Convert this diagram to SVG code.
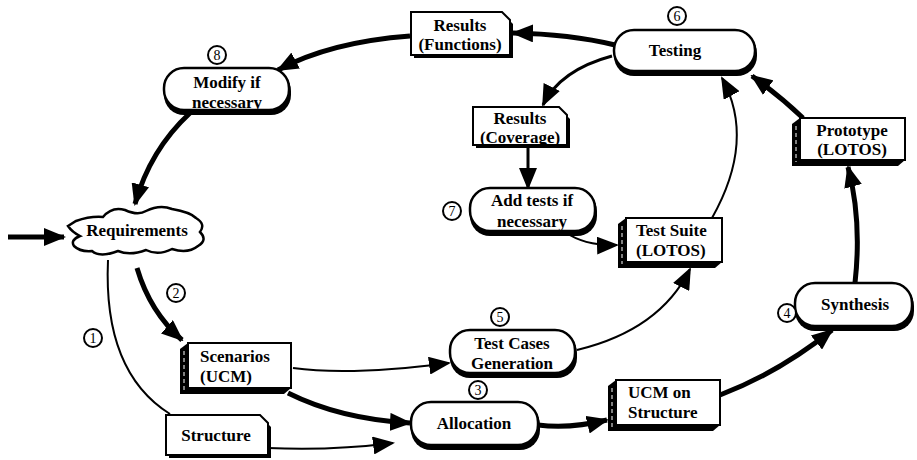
<svg xmlns="http://www.w3.org/2000/svg" width="917" height="460" viewBox="0 0 917 460">
<defs>
<style>
text{font-family:"Liberation Serif","Times New Roman",serif;font-size:17px;font-weight:bold;fill:#000}
.c{text-anchor:middle}
.num{font-size:14px;font-weight:normal;text-anchor:middle}
.pill{fill:#fff;stroke:#000;stroke-width:2.5}
.sh{fill:#000}
.face{fill:#fff;stroke:#000;stroke-width:2}
.thick{fill:none;stroke:#000;stroke-width:5;marker-end:url(#ah)}
.thin{fill:none;stroke:#000;stroke-width:2;marker-end:url(#ah)}
.plain{fill:none;stroke:#000;stroke-width:2}
.ring{fill:#fff;stroke:#000;stroke-width:2}
.dash{stroke:#fff;stroke-width:1;stroke-dasharray:4 3}
</style>
<marker id="ah" viewBox="0 0 22 18" refX="20" refY="9" markerWidth="22" markerHeight="18" markerUnits="userSpaceOnUse" orient="auto">
<path d="M0,0 L22,9 L0,18 Z" fill="#000"/>
</marker>
</defs>

<g id="connectors">
<path class="thick" d="M8,237 L64,237"/>
<path class="thick" d="M190,113 Q150,150 135,204"/>
<path class="thick" d="M410,36 Q330,42 278,70"/>
<path class="thick" d="M615,45 Q570,34 513,33"/>
<path class="thin" style="stroke-width:3" d="M612,56 Q560,70 543,105"/>
<path class="thick" style="stroke-width:3" d="M528,148 L528,188"/>
<path class="thin" d="M565,232 Q585,246 617,245"/>
<path class="thin" d="M712,218 Q756,140 722,78"/>
<path class="thick" d="M803,118 Q780,96 752,76"/>
<path class="thick" d="M855,283 Q862,220 848,167"/>
<path class="thick" d="M720,395 Q780,372 832,330"/>
<path class="thick" d="M538,425 Q570,429 607,420"/>
<path class="thin" d="M577,350 Q660,330 690,269"/>
<path class="thin" d="M293,368 Q350,376 449,363"/>
<path class="thick" d="M288,393 Q340,419 410,423"/>
<path class="thin" d="M268,448 Q330,451 393,443"/>
<path class="thick" d="M137,268 Q150,312 182,340"/>
<path class="plain" d="M108,260 Q103,372 170,414"/>
</g>

<g id="n-requirements">
<path d="M68,226 L76,221 Q90,216 103,217 Q112,206 125,210 Q138,216 146,211 Q160,204 172,209 Q190,212 196,218 Q206,224 200,232 Q208,240 198,246 Q188,254 172,249 Q158,256 146,250 Q130,256 118,251 Q100,258 92,251 Q80,252 74,246 Q70,240 80,236 Q72,232 68,226 Z" fill="#fff" stroke="#000" stroke-width="2.5"/>
<text class="c" x="137" y="236">Requirements</text>
</g>

<g id="n-modify">
<rect class="sh" x="164" y="71" width="127" height="44" rx="20"/>
<rect class="pill" x="164" y="68" width="125" height="42" rx="20"/>
<text class="c" x="227" y="88">Modify if</text>
<text class="c" x="227" y="108">necessary</text>
<circle class="ring" cx="217" cy="55" r="9"/><text class="num" x="217" y="60">8</text>
</g>

<g id="n-results-functions">
<path class="sh" d="M414,16 H505 L513,24 V58 H414 Z"/>
<path class="face" d="M411,12 H502 L510,20 V55 H411 Z"/>
<text class="c" x="460" y="31">Results</text>
<text class="c" x="460" y="50">(Functions)</text>
</g>

<g id="n-testing">
<rect class="sh" x="614" y="33" width="143" height="43" rx="20"/>
<rect class="pill" x="614" y="30" width="141" height="41" rx="20"/>
<text class="c" x="675" y="56">Testing</text>
<circle class="ring" cx="677" cy="16" r="9"/><text class="num" x="677" y="21">6</text>
</g>

<g id="n-results-coverage">
<path class="sh" d="M476,111 H562 L570,119 V148 H476 Z"/>
<path class="face" d="M473,107 H559 L567,115 V145 H473 Z"/>
<text class="c" x="520" y="124">Results</text>
<text class="c" x="520" y="143">(Coverage)</text>
</g>

<g id="n-addtests">
<rect class="sh" x="470" y="191" width="127" height="45" rx="20"/>
<rect class="pill" x="470" y="188" width="125" height="43" rx="20"/>
<text class="c" x="532" y="206">Add tests if</text>
<text class="c" x="532" y="227">necessary</text>
<circle class="ring" cx="452" cy="211" r="9"/><text class="num" x="452" y="216">7</text>
</g>

<g id="n-prototype">
<path class="sh" d="M800,118 L792,124 V166 H898 L905,160 Z"/>
<line class="dash" x1="796" y1="126" x2="796" y2="162"/>
<rect class="face" x="800" y="118" width="105" height="42"/>
<text class="c" x="852" y="136">Prototype</text>
<text class="c" x="852" y="155">(LOTOS)</text>
</g>

<g id="n-testsuite">
<path class="sh" d="M626,218 L618,224 V268 H715 L722,262 Z"/>
<line class="dash" x1="622" y1="226" x2="622" y2="264"/>
<rect class="face" x="626" y="218" width="96" height="44"/>
<text x="636" y="236">Test Suite</text>
<text x="636" y="256">(LOTOS)</text>
</g>

<g id="n-scenarios">
<path class="sh" d="M188,343 L180,349 V394 H284 L291,388 Z"/>
<line class="dash" x1="184" y1="351" x2="184" y2="390"/>
<rect class="face" x="188" y="343" width="103" height="45"/>
<text x="200" y="362">Scenarios</text>
<text x="200" y="382">(UCM)</text>
<circle class="ring" cx="176" cy="293" r="9"/><text class="num" x="176" y="298">2</text>
</g>

<g id="n-structure">
<path class="sh" d="M169,419 H263 L271,427 V458 H169 Z"/>
<path class="face" d="M166,415 H260 L268,423 V455 H166 Z"/>
<text class="c" x="216" y="441">Structure</text>
<circle class="ring" cx="93" cy="338" r="9"/><text class="num" x="93" y="343">1</text>
</g>

<g id="n-testcases">
<rect class="sh" x="450" y="333" width="127" height="45" rx="20"/>
<rect class="pill" x="450" y="330" width="125" height="43" rx="20"/>
<text class="c" x="512" y="349">Test Cases</text>
<text class="c" x="512" y="369">Generation</text>
<circle class="ring" cx="500" cy="317" r="9"/><text class="num" x="500" y="322">5</text>
</g>

<g id="n-allocation">
<rect class="sh" x="411" y="405" width="129" height="45" rx="20"/>
<rect class="pill" x="411" y="402" width="127" height="43" rx="20"/>
<text class="c" x="474" y="429">Allocation</text>
<circle class="ring" cx="478" cy="390" r="9"/><text class="num" x="478" y="395">3</text>
</g>

<g id="n-ucmstructure">
<path class="sh" d="M616,380 L608,386 V431 H713 L720,425 Z"/>
<line class="dash" x1="612" y1="388" x2="612" y2="427"/>
<rect class="face" x="616" y="380" width="104" height="45"/>
<text x="628" y="398">UCM on</text>
<text x="628" y="418">Structure</text>
</g>

<g id="n-synthesis">
<rect class="sh" x="795" y="286" width="119" height="45" rx="20"/>
<rect class="pill" x="795" y="283" width="117" height="43" rx="20"/>
<text class="c" x="855" y="310">Synthesis</text>
<circle class="ring" cx="787" cy="313" r="9"/><text class="num" x="787" y="318">4</text>
</g>
</svg>
